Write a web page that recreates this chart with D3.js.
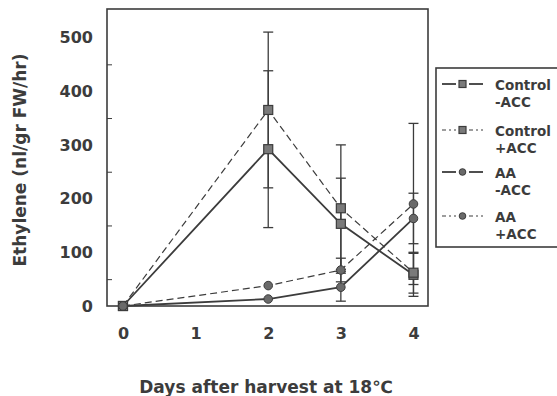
<!DOCTYPE html>
<html>
<head>
<meta charset="UTF-8">
<title>Ethylene</title>
<script src="https://d3js.org/d3.v7.min.js"></script>
<style>
  body { margin: 0; background: #fff; }
  text { font-family: "DejaVu Sans", "Liberation Sans", sans-serif; font-weight: bold; fill: #3c3c3c; }
  .axis path, .axis line { stroke: #3c3c3c; }
</style>
</head>
<body>
<div id="chart"></div>
<script>
// values
const days = [0, 2, 3, 4];
const controlMinus    = [0, 292, 153, 58];
const controlMinusErr = [0, 146, 85, 40];
const controlPlus     = [0, 365, 182, 62];
const controlPlusErr  = [0, 145, 118, 38];
const aaMinus         = [0, 13, 35, 163];
const aaMinusErr      = [0, 0, 26, 47];
const aaPlus          = [0, 38, 67, 190];
const aaPlusErr       = [0, 0, 22, 150];

const xTicks = [0, 1, 2, 3, 4];
const yTicks = [0, 100, 200, 300, 400, 500];
const yMinor = [50, 150, 250, 350, 450];
const legendLabels = [["Control", "-ACC"], ["Control", "+ACC"], ["AA", "-ACC"], ["AA", "+ACC"]];

const series = [
  {vals: controlMinus, err: controlMinusErr, shape: "square", dash: null},
  {vals: controlPlus,  err: controlPlusErr,  shape: "square", dash: "7,4"},
  {vals: aaMinus,      err: aaMinusErr,      shape: "circle", dash: null},
  {vals: aaPlus,       err: aaPlusErr,       shape: "circle", dash: "7,4"}
];

const W = 557, H = 396;
const ink = "#3c3c3c";

const svg = d3.select("#chart").append("svg")
  .attr("width", W).attr("height", H);

const x = d3.scaleLinear().domain([-0.22, 4.2]).range([107, 428]);
const y = d3.scaleLinear().domain([0, 553]).range([306, 9]);

// frame
svg.append("rect")
  .attr("x", x.range()[0]).attr("y", y.range()[1])
  .attr("width", x.range()[1] - x.range()[0])
  .attr("height", y.range()[0] - y.range()[1])
  .attr("fill", "none").attr("stroke", ink).attr("stroke-width", 1.6);

// y axis labels
const yAxis = svg.append("g").attr("class", "axis")
  .attr("transform", `translate(${x.range()[0]},0)`)
  .call(d3.axisLeft(y).tickValues(yTicks).tickSize(0).tickPadding(14));
yAxis.select(".domain").remove();
yAxis.selectAll("text").style("font-size", "16px");

// minor ticks inside
svg.append("g").attr("class", "axis")
  .attr("transform", `translate(${x.range()[0]},0)`)
  .call(d3.axisRight(y).tickValues(yMinor).tickSize(5).tickFormat(""))
  .select(".domain").remove();

// x axis labels
const xAxis = svg.append("g").attr("class", "axis")
  .attr("transform", `translate(0,${y(0)})`)
  .call(d3.axisBottom(x).tickValues(xTicks).tickSize(0).tickPadding(22).tickFormat(d3.format("d")));
xAxis.select(".domain").remove();
xAxis.selectAll("text").style("font-size", "16px");

// axis titles
svg.append("text")
  .attr("transform", "rotate(-90)")
  .attr("x", -160).attr("y", 26)
  .attr("text-anchor", "middle")
  .style("font-size", "17px")
  .text("Ethylene (nl/gr FW/hr)");

svg.append("text")
  .attr("x", 266).attr("y", 393)
  .attr("text-anchor", "middle")
  .style("font-size", "17px")
  .text("Days after harvest at 18℃");

const line = d3.line().x(d => x(d[0])).y(d => y(d[1]));

function marker(g, shape, cx, cy, s) {
  if (shape === "square") {
    g.append("rect").attr("x", cx - s / 2).attr("y", cy - s / 2)
      .attr("width", s).attr("height", s)
      .attr("fill", "#7a7a7a").attr("stroke", ink).attr("stroke-width", 1.2);
  } else {
    g.append("circle").attr("cx", cx).attr("cy", cy).attr("r", s / 2.1)
      .attr("fill", "#6a6a6a").attr("stroke", ink).attr("stroke-width", 1);
  }
}

// error bars
series.forEach(s => {
  days.forEach((d, i) => {
    if (!s.err[i]) return;
    const lo = Math.max(0, s.vals[i] - s.err[i]);
    const hi = s.vals[i] + s.err[i];
    svg.append("line")
      .attr("x1", x(d)).attr("x2", x(d))
      .attr("y1", y(lo)).attr("y2", y(hi))
      .attr("stroke", ink).attr("stroke-width", 1.3);
    [lo, hi].forEach(v => {
      if (v <= 0) return;
      svg.append("line")
        .attr("x1", x(d) - 5).attr("x2", x(d) + 5)
        .attr("y1", y(v)).attr("y2", y(v))
        .attr("stroke", ink).attr("stroke-width", 1.3);
    });
  });
});

// lines + markers
series.forEach(s => {
  const pts = days.map((d, i) => [d, s.vals[i]]);
  svg.append("path").datum(pts)
    .attr("d", line)
    .attr("fill", "none")
    .attr("stroke", ink)
    .attr("stroke-width", s.dash ? 1.2 : 1.8)
    .attr("stroke-dasharray", s.dash);
  const g = svg.append("g");
  pts.forEach(p => marker(g, s.shape, x(p[0]), y(p[1]), 9));
});

// legend
const lg = svg.append("g");
lg.append("rect")
  .attr("x", 436).attr("y", 68).attr("width", 130).attr("height", 179)
  .attr("fill", "#fff").attr("stroke", ink).attr("stroke-width", 1.6);

const rowBase = [90, 136, 178, 222];
series.forEach((s, i) => {
  const yy = rowBase[i] - 6;
  [[442, 456], [469, 483]].forEach(seg => {
    lg.append("line")
      .attr("x1", seg[0]).attr("x2", seg[1]).attr("y1", yy).attr("y2", yy)
      .attr("stroke", ink).attr("stroke-width", s.dash ? 1.2 : 1.8)
      .attr("stroke-dasharray", s.dash ? "4,3,2,3" : null);
  });
  marker(lg, s.shape, 462.5, yy, 7);
  lg.append("text").attr("x", 495).attr("y", rowBase[i])
    .style("font-size", "13.5px").text(legendLabels[i][0]);
  lg.append("text").attr("x", 495).attr("y", rowBase[i] + 17)
    .style("font-size", "13.5px").text(legendLabels[i][1]);
});
</script>
</body>
</html>
